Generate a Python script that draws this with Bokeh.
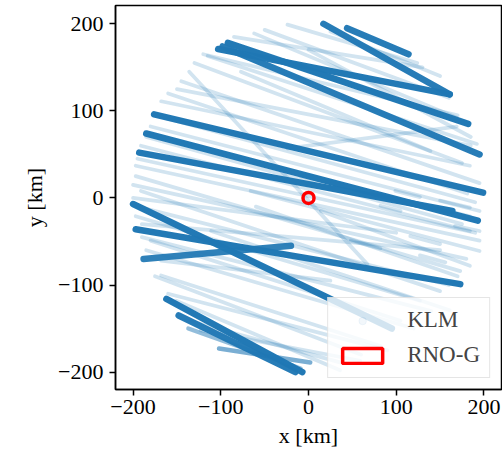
from bokeh.plotting import figure
from bokeh.models import ColumnDataSource, Range1d, FixedTicker
from bokeh.embed import file_html
from bokeh.resources import INLINE
import numpy as np

# Flight tracks (km relative to RNO-G): start x/y, end x/y, number of overlapping passes
track_x0 = [-24, -62, -115, -145, -160, -168, -136, -24, -180, -191, -197, -197, -191, -197,
            -180, -168, -151, -123, 25, -77, -9, -66, 14, -168, -111,
            82, 116, 127, 99, 150, 48, 167,
            -150, -175, -185, -195, -200, -195, -190, -185, -175, -160, -140, -120, -85, -50,
            -130, -200, -190, -60, 0,
            17, 44, -103, -92, -98, -176, -185, -193, -200, -197, -188, -162, -148, -137, -102]
track_y0 = [199, 189, 163, 134, 120, 111, 145, 57, 82, 60, 37, 25, 8, -21,
            -49, -89, -118, -152, 191, 145, 25, 8, -15, -72, -38,
            -9, -44, -66, 8, -3, -49, -32,
            125, 95, 70, 45, 15, -10, -45, -60, -90, -110, -140, 165, 185, 193,
            155, 0, -30, -10, 170,
            200, 195, 171, 178, 174, 96, 74, 52, -7, -36, -70, -116, -135, -150, -173]
track_x1 = [124, 169, 192, 195, 181, 184, 67, 169, 195, 184, 195, 173, 150, 127,
            105, 82, 36, 59, 150, 139, 184, 195, 184, 25, 161,
            105, 150, 156, 127, 184, 82, 195,
            185, 190, 175, 190, 180, 160, 140, 120, 60, 90, 40, 170, 130, 160,
            175, 100, 150, 170, 185,
            161, 114, 161, 182, 195, 199, 193, 164, 95, 173, -20, -7, -15, -9, 2]
track_y1 = [155, 92, 62, 17, 5, 37, -76, 82, -15, -38, -49, -84, -107, -118,
            -141, -170, -198, -187, 140, 54, -21, -61, -78, -95, -129,
            -15, -53, -74, 1, -11, -58, -38,
            60, -5, -30, -40, -70, -100, -130, -150, -180, -175, -190, 95, 150, 115,
            40, -40, -60, -90, 70,
            119, 165, 119, 85, 50, 6, -26, -15, -150, -99, -55, -200, -200, -196, -189]
track_passes = [1, 1, 1, 1, 1, 1, 1, 1, 1, 1, 1, 1, 1, 1,
                1, 1, 1, 1, 1, 1, 1, 1, 1, 1, 1,
                1, 1, 1, 1, 1, 1, 1,
                1, 1, 1, 1, 1, 1, 1, 1, 1, 1, 1, 1, 1, 1,
                1, 1, 1, 1, 1,
                15, 15, 20, 20, 15, 20, 20, 20, 20, 20, 12, 20, 15, 3, 4]

station_x = [0]
station_y = [0]

ticks = [-200, -100, 0, 100, 200]
tick_labels = ["\u2212200", "\u2212100", "0", "100", "200"]

passes = np.array(track_passes, dtype=float)
alpha = 1 - 0.8 ** passes
width = 3.5 + np.minimum(passes, 12) / 4

data = dict(x0=track_x0, y0=track_y0, x1=track_x1, y1=track_y1,
            alpha=alpha, width=width, passes=passes)
order = np.argsort(passes, kind="stable")
src = ColumnDataSource({k: np.asarray(v)[order] for k, v in data.items()})

FONT = "Liberation Serif"

p = figure(width=502, height=464, output_backend="svg", toolbar_location=None,
           x_range=Range1d(-220, 220), y_range=Range1d(-220, 221))
p.min_border_left = 115
p.min_border_right = 1
p.min_border_top = 5
p.min_border_bottom = 75
p.xgrid.visible = False
p.ygrid.visible = False
p.outline_line_color = "black"
p.outline_line_width = 1.5

p.segment(x0="x0", y0="y0", x1="x1", y1="y1", source=src, line_color="#1f77b4",
          line_alpha="alpha", line_width="width", line_cap="round")

# legend-only glyphs
p.scatter(x=[np.nan], y=[np.nan], size=4, color="#1f77b4", alpha=0.06, legend_label="KLM")
p.quad(left=[np.nan], right=[np.nan], top=[np.nan], bottom=[np.nan], fill_color=None,
       line_color="red", line_width=3.5, legend_label="RNO-G")

p.scatter(x=station_x, y=station_y, size=11, fill_color=None, line_color="red", line_width=3.5)

for ax in (p.xaxis[0], p.yaxis[0]):
    ax.ticker = FixedTicker(ticks=ticks)
    ax.major_label_overrides = dict(zip(ticks, tick_labels))
    ax.minor_tick_line_color = None
    ax.major_tick_in = 0
    ax.major_tick_out = 6
    ax.major_tick_line_width = 1.5
    ax.axis_line_width = 1.5
    ax.axis_line_color = "black"
    ax.major_label_text_font = FONT
    ax.major_label_text_font_size = "22px"
    ax.major_label_text_color = "black"
    ax.axis_label_text_font = FONT
    ax.axis_label_text_font_size = "22px"
    ax.axis_label_text_font_style = "normal"
    ax.axis_label_text_color = "black"
p.xaxis.axis_label = "x [km]"
p.yaxis.axis_label = "y [km]"
p.xaxis.major_label_standoff = 4
p.yaxis.major_label_standoff = 6
p.xaxis.axis_label_standoff = 6
p.yaxis.axis_label_standoff = 8

lg = p.legend[0]
lg.location = "bottom_right"
lg.margin = 11
lg.padding = 9
lg.spacing = 9
lg.glyph_width = 50
lg.glyph_height = 19
lg.label_standoff = 20
lg.label_text_font = FONT
lg.label_text_font_size = "23px"
lg.border_line_color = "#cccccc"
lg.border_line_width = 1.5
lg.background_fill_alpha = 0.8

open("out.html", "w").write(file_html(p, INLINE))
